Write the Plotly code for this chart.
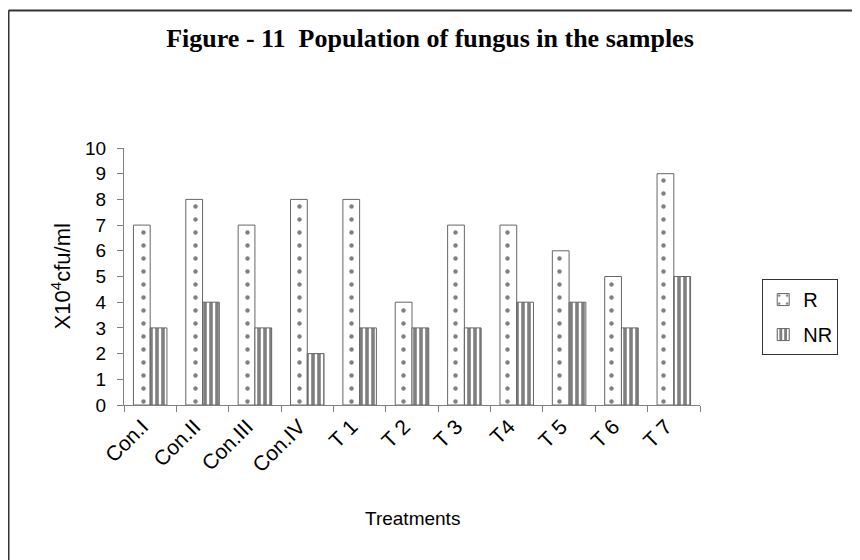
import plotly.graph_objects as go

categories = ["Con.I", "Con.II", "Con.III", "Con.IV", "T 1", "T 2", "T 3", "T4", "T 5", "T 6", "T 7"]
r_values = [7, 8, 7, 8, 8, 4, 7, 7, 6, 5, 9]
nr_values = [3, 4, 3, 2, 3, 3, 3, 4, 4, 3, 5]

fig = go.Figure()
fig.add_trace(go.Bar(
    x=categories, y=r_values, name="R", legendgroup="r",
    marker=dict(color="white", line=dict(color="#666666", width=1),
                pattern=dict(shape=".", fgcolor="black", bgcolor="white", size=13, solidity=0.09)),
))
fig.add_trace(go.Bar(
    x=categories, y=nr_values, name="NR", legendgroup="nr",
    marker=dict(color="white", line=dict(color="#666666", width=1),
                pattern=dict(shape="|", fgcolor="black", bgcolor="white", size=6, solidity=0.6)),
))

font_sans = "Liberation Sans, Arial, sans-serif"
# page body has an 8px margin; figure is sized/offset to compensate
L, T, PW, PH = 116, 140, 576, 257
W, H = 852, 552
fig.update_layout(
    width=W, height=H,
    paper_bgcolor="white", plot_bgcolor="white",
    margin=dict(l=L, r=W - L - PW, t=T, b=H - T - PH, autoexpand=False),
    barmode="group", bargap=0.36, bargroupgap=0,
    showlegend=True,
    legend=dict(x=1.108, y=0.49, xanchor="left", yanchor="top",
                bordercolor="#333333", borderwidth=1,
                font=dict(family=font_sans, size=20, color="black"),
                tracegroupgap=6, itemwidth=30),
    font=dict(family=font_sans, size=19, color="black"),
    title=dict(text="Figure - 11\u00a0\u00a0Population of fungus in the samples",
               x=422 / W, xref="container", xanchor="center", y=1 - 30 / H, yanchor="middle",
               font=dict(family="Liberation Serif, Times New Roman, serif", size=26, color="black", weight="bold")),
    xaxis=dict(type="category", showline=True, linecolor="#808080", linewidth=1,
               ticks="outside", tickson="boundaries", ticklen=6, tickcolor="#808080",
               tickangle=-45, tickfont=dict(family=font_sans, size=21),
               ticklabelshift=-8,
               showgrid=False, zeroline=False, automargin=False),
    yaxis=dict(range=[0, 10], dtick=1, showline=True, linecolor="#808080", linewidth=1,
               ticks="outside", ticklen=6, tickcolor="#808080",
               tickfont=dict(family=font_sans, size=19), ticklabelstandoff=7,
               showgrid=False, zeroline=False, automargin=False),
    annotations=[
        dict(text="X10<sup>4</sup>cfu/ml", xref="paper", yref="paper", x=(52 - L) / PW, y=0.5,
             xanchor="center", yanchor="middle", textangle=-90, showarrow=False,
             font=dict(family=font_sans, size=22, color="black")),
        dict(text="Treatments", xref="paper", yref="paper", x=0.5, y=(T + PH - 510) / PH,
             xanchor="center", yanchor="middle", showarrow=False,
             font=dict(family=font_sans, size=19, color="black")),
    ],
    shapes=[
        dict(type="line", xref="paper", yref="paper", x0=(0.5 - L) / PW, x1=(W + 10 - L) / PW,
             y0=(T + PH - 2.5) / PH, y1=(T + PH - 2.5) / PH, line=dict(color="#333333", width=2)),
        dict(type="line", xref="paper", yref="paper", x0=(0.5 - L) / PW, x1=(0.5 - L) / PW,
             y0=(T + PH - 2.5) / PH, y1=(T + PH - H - 10) / PH, line=dict(color="#333333", width=2)),
    ],
)

fig.write_html("out.html")
